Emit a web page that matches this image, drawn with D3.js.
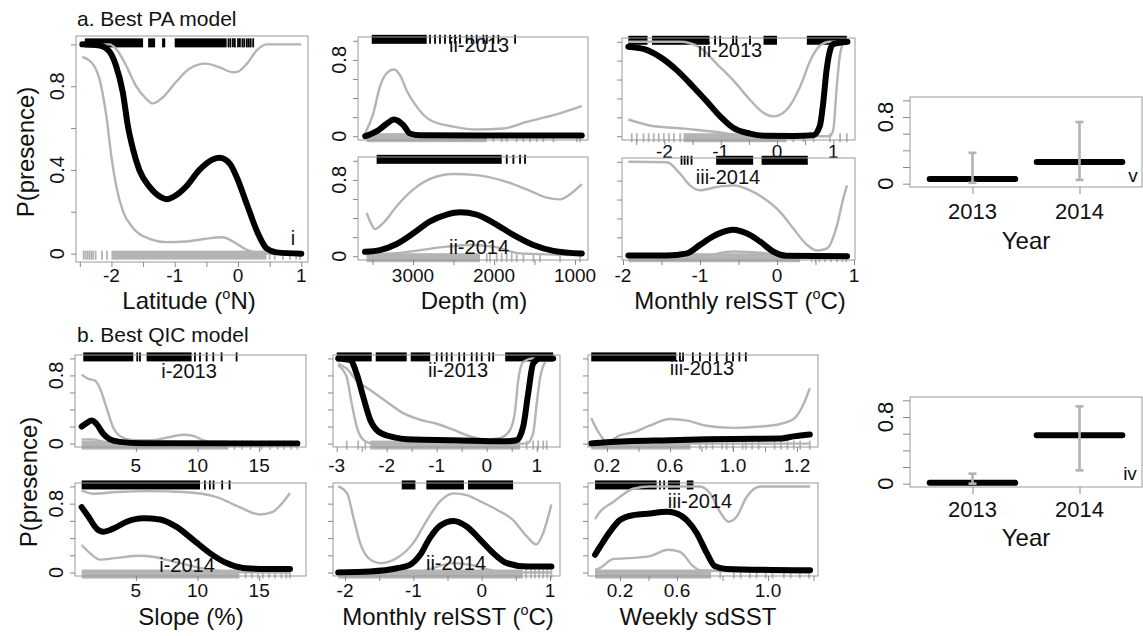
<!DOCTYPE html>
<html>
<head>
<meta charset="utf-8">
<script src="https://cdn.jsdelivr.net/npm/d3@7"></script>
<style>
  body { margin: 0; background: #fff; }
  svg { display: block; }
</style>
</head>
<body>
<script>
// ---------- data ----------
// a-i latitude
const latMean = [[-2.46,1.0],[-2.19,0.995],[-2.03,0.965],[-1.93,0.90],[-1.82,0.77],[-1.74,0.61],[-1.66,0.50],[-1.56,0.40],[-1.40,0.32],[-1.22,0.27],[-1.13,0.26],[-1.03,0.27],[-0.82,0.32],[-0.61,0.40],[-0.40,0.45],[-0.29,0.458],[-0.13,0.43],[-0.02,0.365],[0.14,0.236],[0.30,0.107],[0.45,0.026],[0.61,0.006],[1.0,0.0]];
const latUpper = [[-2.46,1.0],[-2.03,1.0],[-1.93,0.98],[-1.77,0.90],[-1.61,0.80],[-1.45,0.74],[-1.35,0.718],[-1.19,0.746],[-0.98,0.82],[-0.77,0.883],[-0.51,0.908],[-0.29,0.89],[-0.08,0.867],[0.0,0.87],[0.14,0.908],[0.30,0.972],[0.45,1.0],[1.0,1.0]];
const latLower = [[-2.46,0.94],[-2.30,0.908],[-2.19,0.835],[-2.08,0.657],[-2.0,0.463],[-1.92,0.317],[-1.82,0.204],[-1.66,0.123],[-1.40,0.071],[-1.13,0.055],[-0.82,0.058],[-0.51,0.071],[-0.24,0.078],[-0.08,0.058],[0.14,0.018],[0.45,0.0],[1.0,0.0]];
const latPresBlocks = [[-2.42,-1.50],[-1.42,-1.31],[-1.20,-1.15],[-1.0,-0.18]];
const latPresTicks = [-0.15,-0.12,-0.08,-0.05,0.0,0.03,0.07,0.10,0.14,0.17,0.20,0.24];
const latAbsBlocks = [[-2.0,0.45]];
const latAbsTicks = [-2.44,-2.41,-2.38,-2.35,-2.32,-2.29,-2.25,-2.15,-2.07,0.50,0.58,0.71,0.82,0.92,0.98];

// a-ii depth
const dep13Mean = [[3590,0.0],[3428,0.063],[3325,0.13],[3235,0.175],[3119,0.116],[3037,0.028],[2914,0.01],[2090,0.008],[917,0.008]];
const dep13Upper = [[3590,0.03],[3490,0.24],[3408,0.52],[3325,0.66],[3235,0.70],[3161,0.64],[3079,0.48],[2955,0.31],[2790,0.17],[2502,0.10],[2214,0.07],[1885,0.08],[1597,0.15],[1267,0.22],[917,0.316]];
const dep13Lower = [[3590,0.0],[3235,0.015],[2900,0.002],[917,0.0]];
const dep13PresBlocks = [[3510,2831]];
const dep13PresTicks = [2790,2728,2667,2605,2543,2481,2420,2337,2276,2214,2131,2090,2008,1946,1740];
const dep13AbsBlocks = [[3573,2090]];
const dep13AbsTicks = [2008,1905,1843,1720,1638,1555,1473,1391,1267,979,938];
const dep14Mean = [[3593,0.046],[3408,0.064],[3202,0.128],[2996,0.24],[2790,0.365],[2584,0.436],[2420,0.46],[2214,0.436],[2008,0.35],[1761,0.223],[1514,0.117],[1267,0.056],[917,0.028]];
const dep14Upper = [[3573,0.454],[3510,0.33],[3470,0.284],[3367,0.348],[3202,0.524],[2996,0.70],[2790,0.81],[2502,0.862],[2214,0.85],[1885,0.79],[1597,0.70],[1350,0.614],[1185,0.596],[1061,0.65],[917,0.755]];
const dep14Lower = [[3573,0.01],[3119,0.04],[2584,0.10],[2296,0.117],[2008,0.10],[1679,0.03],[917,0.01]];
const dep14PresBlocks = [[3449,1905]];
const dep14PresTicks = [1843,1761,1679,1617];
const dep14AbsBlocks = [[3573,2173]];
const dep14AbsTicks = [2090,2049,1967,1905,1843,1782,1720,1638,1514,1432,1185,938];

// a-iii monthly relSST
const rel13Mean = [[-2.64,0.948],[-2.37,0.924],[-2.08,0.84],[-1.78,0.70],[-1.49,0.524],[-1.25,0.37],[-1.01,0.21],[-0.78,0.09],[-0.48,0.028],[-0.2,0.005],[0.3,0.003],[0.645,0.01],[0.76,0.107],[0.82,0.35],[0.88,0.70],[0.94,0.906],[1.0,0.976],[1.25,1.0]];
const rel13Upper = [[-2.64,1.0],[-1.72,1.0],[-1.37,0.94],[-1.07,0.767],[-0.78,0.594],[-0.48,0.385],[-0.24,0.247],[-0.07,0.21],[0.17,0.28],[0.41,0.524],[0.59,0.80],[0.76,0.958],[0.94,1.0],[1.25,1.0]];
const rel13Lower = [[-2.64,0.177],[-2.26,0.114],[-1.66,0.08],[-1.07,0.045],[-0.48,0.0],[0.94,0.0],[1.0,0.073],[1.06,0.52],[1.12,0.868],[1.2,1.0],[1.25,1.0]];
const rel13PresBlocks = [[-2.64,-2.30],[-2.22,-1.20],[-0.24,0.0],[0.53,1.24]];
const rel13PresTicks = [-1.10,-1.01,-0.78,-0.72,-0.48];
const rel13AbsBlocks = [[-1.66,0.17]];
const rel13AbsTicks = [-2.58,-2.49,-2.37,-2.28,-2.19,-2.10,-2.01,-1.92,-1.83,-1.72,0.29,0.47,0.65,0.94,1.12,1.24];
const rel14Mean = [[-1.93,0.007],[-1.43,0.007],[-1.17,0.03],[-1.0,0.12],[-0.83,0.21],[-0.65,0.27],[-0.57,0.28],[-0.39,0.24],[-0.22,0.155],[-0.05,0.05],[0.12,0.005],[0.91,0.0]];
const rel14Upper = [[-1.93,1.0],[-1.43,0.995],[-1.26,0.874],[-1.13,0.75],[-1.0,0.698],[-0.78,0.733],[-0.57,0.75],[-0.35,0.698],[-0.13,0.59],[0.04,0.47],[0.21,0.295],[0.39,0.12],[0.52,0.06],[0.65,0.084],[0.78,0.33],[0.86,0.61],[0.91,0.75]];
const rel14Lower = [[-1.93,0.0],[-1.0,0.0],[-0.57,0.05],[-0.13,0.03],[0.12,0.0],[0.91,0.0]];
const rel14PresBlocks = [[-0.79,-0.31],[-0.20,0.40]];
const rel14PresTicks = [-1.24,-1.20,-1.16,-1.11];
const rel14AbsBlocks = [[-1.93,0.30]];
const rel14AbsTicks = [0.45,0.50,0.55,0.62,0.70,0.78,0.85,0.90];

// a-v year (best PA model)
const years = ["2013", "2014"];
const yearAMean = [0.056, 0.26];
const yearALow = [0.01, 0.045];
const yearAHigh = [0.37, 0.74];

// b-i slope
const slope13Mean = [[0.6,0.2],[1.0,0.24],[1.41,0.27],[1.81,0.23],[2.35,0.115],[2.9,0.05],[3.7,0.02],[5.5,0.005],[18.1,0.0]];
const slope13Upper = [[0.6,0.81],[1.14,0.76],[1.68,0.74],[2.08,0.65],[2.62,0.42],[3.16,0.19],[3.84,0.077],[4.78,0.04],[6.4,0.04],[7.5,0.07],[8.84,0.104],[9.65,0.09],[10.46,0.04],[11.5,0.005],[18.1,0.0]];
const slope13Lower = [[0.6,0.05],[1.5,0.05],[2.9,0.0],[18.1,0.0]];
const slope13PresBlocks = [[0.73,4.79],[5.87,9.52]];
const slope13PresTicks = [5.11,5.33,9.79,10.2,10.74,11.28,11.95,13.17];
const slope13AbsBlocks = [[0.6,12.5]];
const slope13AbsTicks = [13.0,13.6,14.3,15.2,15.9,16.5,17.0,17.6,18.1];
const slope14Mean = [[0.6,0.76],[1.14,0.65],[1.82,0.51],[2.35,0.475],[3.16,0.51],[4.25,0.59],[5.6,0.63],[6.95,0.617],[8.3,0.53],[9.65,0.38],[11.0,0.226],[12.36,0.11],[13.7,0.054],[15.6,0.042],[17.5,0.042]];
const slope14Upper = [[0.6,0.954],[1.54,0.916],[3.44,0.935],[6.14,0.946],[8.84,0.935],[11.55,0.877],[13.4,0.76],[15.06,0.675],[16.1,0.705],[16.95,0.82],[17.5,0.923]];
const slope14Lower = [[0.6,0.32],[1.27,0.226],[2.08,0.15],[3.44,0.17],[5.3,0.195],[6.5,0.18],[8.3,0.118],[10.2,0.054],[12.5,0.01],[17.5,0.0]];
const slope14PresBlocks = [[0.6,10.2]];
const slope14PresTicks = [10.6,11.0,11.3,12.0,12.6];
const slope14AbsBlocks = [[0.6,13.4]];
const slope14AbsTicks = [13.9,14.4,14.9,15.3,15.8,16.3,16.8,17.2,17.5];

// b-ii monthly relSST
const relB13Mean = [[-2.97,1.0],[-2.73,0.98],[-2.6,0.82],[-2.47,0.55],[-2.33,0.28],[-2.17,0.143],[-1.93,0.085],[-1.47,0.047],[-0.67,0.04],[0.33,0.027],[0.6,0.04],[0.73,0.2],[0.83,0.59],[0.93,0.94],[1.07,1.0],[1.33,1.0]];
const relB13Upper = [[-2.97,0.94],[-2.8,0.88],[-2.6,0.74],[-2.33,0.63],[-2.0,0.49],[-1.67,0.357],[-1.33,0.28],[-1.0,0.233],[-0.67,0.163],[-0.33,0.085],[0.0,0.05],[0.27,0.066],[0.47,0.163],[0.57,0.395],[0.63,0.74],[0.73,0.957],[0.93,1.0],[1.33,1.0]];
const relB13Lower = [[-2.97,0.92],[-2.8,0.78],[-2.7,0.47],[-2.6,0.2],[-2.47,0.047],[-2.27,0.0],[0.8,0.0],[0.93,0.124],[1.0,0.47],[1.07,0.78],[1.2,0.977],[1.33,1.0]];
const relB13PresBlocks = [[-3.0,-2.3],[-2.22,-1.6],[-1.52,-1.13],[0.37,1.33]];
const relB13PresTicks = [-1.0,-0.9,-0.8,-0.7,-0.55,-0.45,-0.3,-0.2,-0.1,0.05,0.13];
const relB13AbsBlocks = [[-2.33,0.67]];
const relB13AbsTicks = [-2.8,-2.57,-2.43,0.8,0.93,1.03,1.13,1.2];
const relB14Mean = [[-2.10,0.0],[-1.63,0.012],[-1.24,0.05],[-1.05,0.09],[-0.9,0.206],[-0.76,0.4],[-0.61,0.543],[-0.41,0.60],[-0.22,0.535],[-0.02,0.38],[0.17,0.225],[0.37,0.109],[0.66,0.07],[1.02,0.07]];
const relB14Upper = [[-2.10,1.0],[-1.97,0.92],[-1.88,0.65],[-1.78,0.345],[-1.63,0.15],[-1.49,0.11],[-1.24,0.17],[-1.0,0.345],[-0.8,0.61],[-0.61,0.826],[-0.41,0.92],[-0.22,0.90],[-0.02,0.826],[0.22,0.73],[0.46,0.61],[0.66,0.42],[0.8,0.326],[0.9,0.46],[1.02,0.79]];
const relB14Lower = [[-2.10,0.0],[-1.0,0.0],[-0.9,0.01],[-0.41,0.109],[-0.17,0.09],[0.17,0.023],[0.37,0.0],[1.02,0.0]];
const relB14PresBlocks = [[-1.17,-0.97],[-0.81,-0.26],[-0.20,0.46]];
const relB14PresTicks = [];
const relB14AbsBlocks = [[-2.10,0.60]];
const relB14AbsTicks = [0.65,0.72,0.78,0.84,0.90,0.96,1.02];

// b-iii weekly sdSST
const sd13Mean = [[0.1,0.0],[0.2,0.015],[0.6,0.04],[0.83,0.05],[1.0,0.055],[1.15,0.06],[1.19,0.085],[1.24,0.107]];
const sd13Upper = [[0.1,0.30],[0.15,0.12],[0.2,0.02],[0.28,0.096],[0.37,0.134],[0.47,0.21],[0.6,0.288],[0.71,0.27],[0.83,0.21],[1.0,0.185],[1.085,0.2],[1.147,0.23],[1.189,0.288],[1.22,0.46],[1.24,0.65]];
const sd13Lower = [[0.1,0.0],[1.24,0.0]];
const sd13PresBlocks = [[0.1,0.64]];
const sd13PresTicks = [0.663,0.683,0.745,0.79,0.853,0.897,0.96,1.0,1.02,1.04];
const sd13AbsBlocks = [[0.1,0.73]];
const sd13AbsTicks = [0.79,0.83,0.87,0.93,0.96,1.0,1.03,1.04,1.06,1.08,1.13,1.15,1.17,1.19,1.21,1.24];
const sd14Mean = [[0.025,0.207],[0.06,0.30],[0.13,0.475],[0.2,0.61],[0.293,0.667],[0.41,0.686],[0.528,0.705],[0.59,0.69],[0.643,0.61],[0.687,0.457],[0.731,0.226],[0.767,0.072],[0.818,0.042],[1.185,0.026]];
const sd14Upper = [[0.025,0.62],[0.06,0.705],[0.153,0.82],[0.293,0.973],[0.41,1.0],[0.701,1.0],[0.745,0.92],[0.789,0.705],[0.826,0.59],[0.862,0.648],[0.906,0.877],[0.965,1.0],[1.185,1.0]];
const sd14Lower = [[0.025,0.03],[0.06,0.054],[0.153,0.157],[0.293,0.17],[0.41,0.19],[0.537,0.264],[0.613,0.24],[0.672,0.072],[0.701,0.026],[1.185,0.0]];
const sd14PresBlocks = [[0.025,0.457],[0.537,0.613],[0.643,0.672]];
const sd14PresTicks = [0.48,0.51];
const sd14AbsBlocks = [[0.025,0.75]];
const sd14AbsTicks = [0.79,0.85,0.88,0.92,0.95,0.99,1.02,1.07,1.10,1.14,1.18];

// b-iv year (best QIC model)
const yearBMean = [0.01, 0.58];
const yearBLow = [0.0, 0.16];
const yearBHigh = [0.12, 0.928];

const yTicks = [0, 0.2, 0.4, 0.6, 0.8, 1.0];

// ---------- drawing ----------
const W = 1143, H = 636;
const FONT = "'Liberation Sans', Arial, Helvetica, sans-serif";
const GREY = "#b4b4b4";
const BOX = "#999";
const TICK_FS = 19, TITLE_FS = 24;

const svg = d3.select("body").append("svg")
    .attr("width", W).attr("height", H)
    .style("font-family", FONT);

function txt(x, y, s, size, anchor) {
  return svg.append("text").attr("x", x).attr("y", y)
    .attr("font-size", size).attr("text-anchor", anchor || "middle")
    .attr("fill", "#111").text(s);
}

// text with a small raised "o" (degree) inside
function degText(x, y, before, after, size) {
  const t = svg.append("text").attr("x", x).attr("y", y)
    .attr("font-size", size).attr("text-anchor", "middle").attr("fill", "#111");
  t.append("tspan").text(before);
  t.append("tspan").attr("font-size", size * 0.6).attr("dy", -size * 0.42).text("o");
  t.append("tspan").attr("dy", size * 0.42).text(after);
  return t;
}

function yLabelsRot(y, vals, cx, size) {
  vals.forEach(v => {
    svg.append("text")
      .attr("transform", `translate(${cx},${y(v)}) rotate(-90)`)
      .attr("text-anchor", "middle").attr("dy", "0.36em")
      .attr("font-size", size).attr("fill", "#111")
      .text(v === 0 ? "0" : d3.format(".1f")(v));
  });
}

function drawPanel(p) {
  const g = svg.append("g");
  const x = p.x;
  const y = d3.scaleLinear().domain([-0.04, 1.04]).range([p.bottom, p.top]);
  const line = d3.line().x(d => x(d[0])).y(d => y(d[1])).curve(d3.curveMonotoneX);

  const rug = (blocks, ticks, y0, y1, color) => {
    g.selectAll(null).data(blocks).enter().append("rect")
      .attr("x", d => Math.min(x(d[0]), x(d[1])))
      .attr("width", d => Math.abs(x(d[1]) - x(d[0])))
      .attr("y", y0).attr("height", y1 - y0).attr("fill", color);
    g.selectAll(null).data(ticks).enter().append("line")
      .attr("x1", d => x(d)).attr("x2", d => x(d))
      .attr("y1", y0).attr("y2", y1)
      .attr("stroke", color).attr("stroke-width", 1.8);
  };
  rug(p.absBlocks, p.absTicks, y(0) - 3, y(0) + 6, GREY);
  rug(p.presBlocks, p.presTicks, y(1) - 6, y(1) + 3, "#000");

  [p.upper, p.lower].forEach(s => {
    g.append("path").datum(s).attr("d", line)
      .attr("fill", "none").attr("stroke", GREY).attr("stroke-width", 2.4);
  });
  g.append("path").datum(p.mean).attr("d", line)
    .attr("fill", "none").attr("stroke", "#000").attr("stroke-width", 6)
    .attr("stroke-linecap", "round").attr("stroke-linejoin", "round");

  // box
  g.append("rect").attr("x", p.left).attr("y", p.top)
    .attr("width", p.right - p.left).attr("height", p.bottom - p.top)
    .attr("fill", "none").attr("stroke", BOX).attr("stroke-width", 1);

  // y ticks
  g.append("g").attr("transform", `translate(${p.left},0)`)
    .call(d3.axisLeft(y).tickValues(yTicks).tickSize(5).tickFormat(""))
    .call(a => a.select(".domain").remove())
    .call(a => a.selectAll("line").attr("stroke", "#888"));
  if (p.yLabels) yLabelsRot(y, p.yLabels, p.left - 19, 20);

  // x ticks + labels
  if (p.xTicks) {
    g.append("g").attr("transform", `translate(0,${p.bottom})`)
      .call(d3.axisBottom(x).tickValues(p.xTicks).tickSize(5).tickFormat(""))
      .call(a => a.select(".domain").remove())
      .call(a => a.selectAll("line").attr("stroke", "#888"));
    p.xLabels.forEach(v => txt(x(v), p.labelY, p.fmt ? p.fmt(v) : String(v), TICK_FS));
  }
  if (p.tag) txt(p.tag[0], p.tag[1], p.name, 20);
  return { x, y };
}

function drawYear(p) {
  const g = svg.append("g");
  const y = d3.scaleLinear().domain([-0.04, 1.04]).range([p.bottom, p.top]);
  const x = d3.scalePoint().domain(years).range([p.left, p.right]).padding(0.584);
  const half = x.step() * 0.4;

  g.append("rect").attr("x", p.left).attr("y", p.top)
    .attr("width", p.right - p.left).attr("height", p.bottom - p.top)
    .attr("fill", "none").attr("stroke", BOX);

  g.selectAll(null).data(years).enter().append("line")
    .attr("x1", d => x(d) - half).attr("x2", d => x(d) + half)
    .attr("y1", (d, i) => y(p.mean[i])).attr("y2", (d, i) => y(p.mean[i]))
    .attr("stroke", "#000").attr("stroke-width", 6).attr("stroke-linecap", "round");

  g.selectAll(null).data(years).enter().append("line")
    .attr("x1", d => x(d)).attr("x2", d => x(d))
    .attr("y1", (d, i) => y(p.low[i])).attr("y2", (d, i) => y(p.high[i]))
    .attr("stroke", GREY).attr("stroke-width", 2.6);
  [p.low, p.high].forEach(arr => {
    g.selectAll(null).data(years).enter().append("line")
      .attr("x1", d => x(d) - 4).attr("x2", d => x(d) + 4)
      .attr("y1", (d, i) => y(arr[i])).attr("y2", (d, i) => y(arr[i]))
      .attr("stroke", GREY).attr("stroke-width", 2.6);
  });

  g.append("g").attr("transform", `translate(${p.left},0)`)
    .call(d3.axisLeft(y).tickValues(yTicks).tickSize(7).tickFormat(""))
    .call(a => a.select(".domain").remove())
    .call(a => a.selectAll("line").attr("stroke", "#888"));
  g.append("g").attr("transform", `translate(0,${p.bottom})`)
    .call(d3.axisBottom(x).tickSize(7).tickFormat(""))
    .call(a => a.select(".domain").remove())
    .call(a => a.selectAll("line").attr("stroke", "#888"));

  yLabelsRot(y, [0, 0.8], p.left - 25, 22);
  years.forEach(yr => txt(x(yr), p.labelY, yr, 22));
  txt((x("2013") + x("2014")) / 2, p.titleY, "Year", 24);
  txt(p.tag[0], p.tag[1], p.name, 19);
}

// ---------- panel layout ----------
const rng = (a, b, s) => d3.range(a, b + s / 2, s);
const f1 = d3.format(".1f");

// a-i
drawPanel({ left: 76, right: 308, top: 36, bottom: 262,
  x: d3.scaleLinear().domain([-2.56, 1.106]).range([76, 308]),
  mean: latMean, upper: latUpper, lower: latLower,
  presBlocks: latPresBlocks, presTicks: latPresTicks, absBlocks: latAbsBlocks, absTicks: latAbsTicks,
  xTicks: rng(-2.5, 1, 0.5), xLabels: [-2, -1, 0, 1], labelY: 282,
  yLabels: [0, 0.4, 0.8], name: "i", tag: [293, 245] });

// a-ii
const depthX = d3.scaleLinear().domain([3679, 840]).range([358, 588]);
drawPanel({ left: 358, right: 588, top: 37, bottom: 140, x: depthX,
  mean: dep13Mean, upper: dep13Upper, lower: dep13Lower,
  presBlocks: dep13PresBlocks, presTicks: dep13PresTicks, absBlocks: dep13AbsBlocks, absTicks: dep13AbsTicks,
  yLabels: [0, 0.8], name: "ii-2013", tag: [479, 52] });
drawPanel({ left: 358, right: 588, top: 157, bottom: 260, x: depthX,
  mean: dep14Mean, upper: dep14Upper, lower: dep14Lower,
  presBlocks: dep14PresBlocks, presTicks: dep14PresTicks, absBlocks: dep14AbsBlocks, absTicks: dep14AbsTicks,
  xTicks: rng(1000, 3500, 500), xLabels: [3000, 2000, 1000], labelY: 282,
  yLabels: [0, 0.8], name: "ii-2014", tag: [479, 254] });

// a-iii
drawPanel({ left: 622, right: 855, top: 38, bottom: 140,
  x: d3.scaleLinear().domain([-2.753, 1.385]).range([622, 855]),
  mean: rel13Mean, upper: rel13Upper, lower: rel13Lower,
  presBlocks: rel13PresBlocks, presTicks: rel13PresTicks, absBlocks: rel13AbsBlocks, absTicks: rel13AbsTicks,
  xTicks: rng(-2.5, 1, 0.5), xLabels: [-2, -1, 0, 1], labelY: 158,
  name: "iii-2013", tag: [730, 57] });
drawPanel({ left: 622, right: 855, top: 158, bottom: 260,
  x: d3.scaleLinear().domain([-2.013, 1.013]).range([622, 855]),
  mean: rel14Mean, upper: rel14Upper, lower: rel14Lower,
  presBlocks: rel14PresBlocks, presTicks: rel14PresTicks, absBlocks: rel14AbsBlocks, absTicks: rel14AbsTicks,
  xTicks: rng(-2, 1, 0.5), xLabels: [-2, -1, 0, 1], labelY: 282,
  name: "iii-2014", tag: [728, 184] });

// a-v
drawYear({ left: 910, right: 1142, top: 97, bottom: 187,
  mean: yearAMean, low: yearALow, high: yearAHigh,
  labelY: 219, titleY: 249, name: "v", tag: [1133, 182] });

// b-i
const slopeX = d3.scaleLinear().domain([0.06, 18.8]).range([75, 306]);
drawPanel({ left: 75, right: 306, top: 355, bottom: 447, x: slopeX,
  mean: slope13Mean, upper: slope13Upper, lower: slope13Lower,
  presBlocks: slope13PresBlocks, presTicks: slope13PresTicks, absBlocks: slope13AbsBlocks, absTicks: slope13AbsTicks,
  xTicks: [5, 10, 15], xLabels: [5, 10, 15], labelY: 472,
  yLabels: [0, 0.8], name: "i-2013", tag: [189, 378] });
drawPanel({ left: 75, right: 306, top: 483, bottom: 576, x: slopeX,
  mean: slope14Mean, upper: slope14Upper, lower: slope14Lower,
  presBlocks: slope14PresBlocks, presTicks: slope14PresTicks, absBlocks: slope14AbsBlocks, absTicks: slope14AbsTicks,
  xTicks: [5, 10, 15], xLabels: [5, 10, 15], labelY: 597,
  yLabels: [0, 0.8], name: "i-2014", tag: [187, 572] });

// b-ii
drawPanel({ left: 333, right: 560, top: 355, bottom: 447,
  x: d3.scaleLinear().domain([-3.074, 1.466]).range([333, 560]),
  mean: relB13Mean, upper: relB13Upper, lower: relB13Lower,
  presBlocks: relB13PresBlocks, presTicks: relB13PresTicks, absBlocks: relB13AbsBlocks, absTicks: relB13AbsTicks,
  xTicks: rng(-3, 1, 0.5), xLabels: [-3, -2, -1, 0, 1], labelY: 472,
  name: "ii-2013", tag: [458, 377] });
drawPanel({ left: 333, right: 560, top: 483, bottom: 576,
  x: d3.scaleLinear().domain([-2.176, 1.146]).range([333, 560]),
  mean: relB14Mean, upper: relB14Upper, lower: relB14Lower,
  presBlocks: relB14PresBlocks, presTicks: relB14PresTicks, absBlocks: relB14AbsBlocks, absTicks: relB14AbsTicks,
  xTicks: rng(-2, 1, 0.5), xLabels: [-2, -1, 0, 1], labelY: 597,
  name: "ii-2014", tag: [456, 570] });

// b-iii
drawPanel({ left: 588, right: 818, top: 355, bottom: 447,
  x: d3.scaleLinear().domain([0.2, 0.6, 1.0, 1.2]).range([607, 670, 733, 797]),
  mean: sd13Mean, upper: sd13Upper, lower: sd13Lower,
  presBlocks: sd13PresBlocks, presTicks: sd13PresTicks, absBlocks: sd13AbsBlocks, absTicks: sd13AbsTicks,
  xTicks: [0.2, 0.4, 0.6, 0.8, 1.0, 1.1, 1.2], xLabels: [0.2, 0.6, 1.0, 1.2], fmt: f1, labelY: 472,
  name: "iii-2013", tag: [702, 375] });
drawPanel({ left: 588, right: 818, top: 483, bottom: 576,
  x: d3.scaleLinear().domain([0.2, 0.6, 1.0]).range([620, 677, 768]),
  mean: sd14Mean, upper: sd14Upper, lower: sd14Lower,
  presBlocks: sd14PresBlocks, presTicks: sd14PresTicks, absBlocks: sd14AbsBlocks, absTicks: sd14AbsTicks,
  xTicks: [0.2, 0.4, 0.6, 0.8, 1.0, 1.2], xLabels: [0.2, 0.6, 1.0], fmt: f1, labelY: 597,
  name: "iii-2014", tag: [700, 508] });

// b-iv
drawYear({ left: 910, right: 1142, top: 397, bottom: 487,
  mean: yearBMean, low: yearBLow, high: yearBHigh,
  labelY: 517, titleY: 546, name: "iv", tag: [1130, 480] });

// ---------- titles ----------
txt(77, 26, "a. Best PA model", 21, "start");
txt(77, 342, "b. Best QIC model", 21, "start");

[[25, 152], [28, 482]].forEach(([cx, cy]) => {
  svg.append("text").attr("transform", `translate(${cx},${cy}) rotate(-90)`)
    .attr("text-anchor", "middle").attr("dy", "0.36em")
    .attr("font-size", 24).attr("fill", "#111").text("P(presence)");
});

degText(189, 309, "Latitude (", "N)", TITLE_FS);
txt(474, 309, "Depth (m)", TITLE_FS);
degText(740, 309, "Monthly relSST (", "C)", TITLE_FS);
txt(191, 625, "Slope (%)", TITLE_FS);
degText(448, 625, "Monthly relSST (", "C)", TITLE_FS);
txt(698, 625, "Weekly sdSST", TITLE_FS);
</script>
</body>
</html>
